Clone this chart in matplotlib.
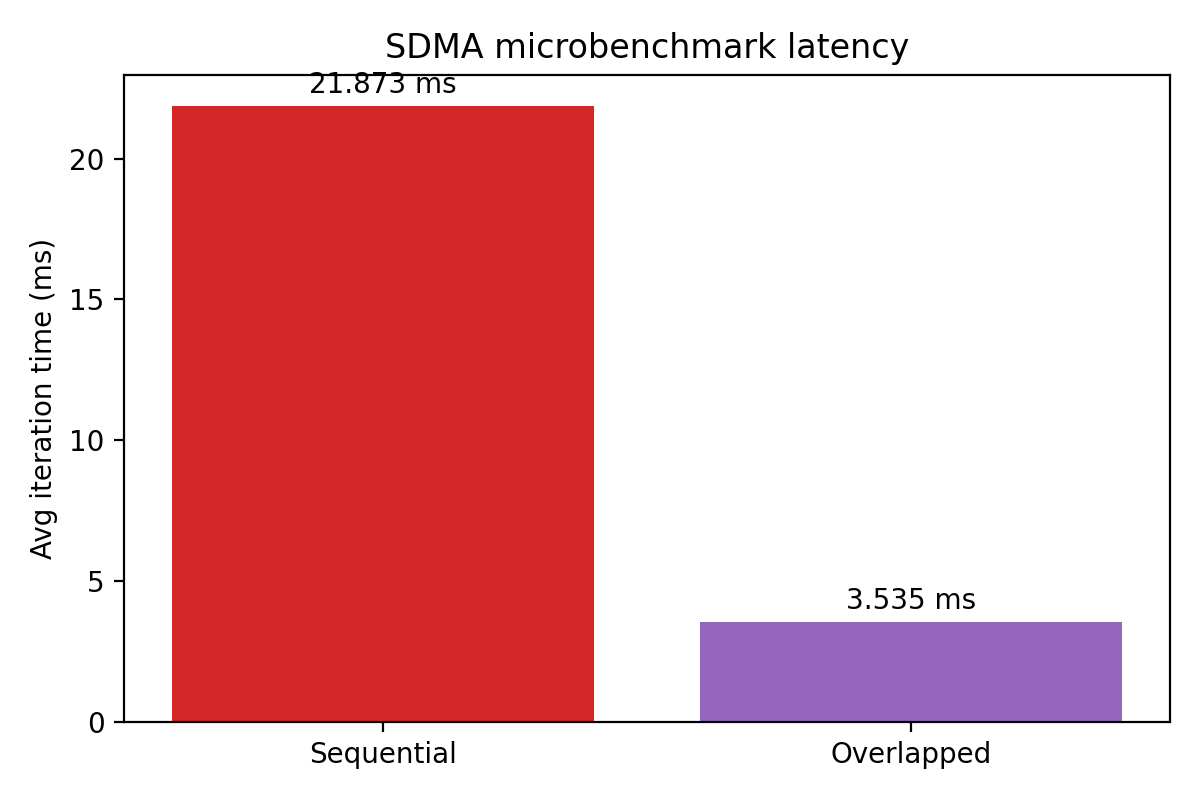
import matplotlib
matplotlib.use("Agg")
import matplotlib.pyplot as plt

categories = ["Sequential", "Overlapped"]
values = [21.873, 3.535]
colors = ["tab:red", "tab:purple"]

fig, ax = plt.subplots(figsize=(6, 4), dpi=200)
bars = ax.bar(categories, values, color=colors)
for b, v in zip(bars, values):
    ax.annotate(f"{v:.3f} ms", (b.get_x() + b.get_width() / 2, v),
                xytext=(0, 2.5), textcoords="offset points",
                ha="center", va="bottom", fontsize=10)
ax.set_ylabel("Avg iteration time (ms)")
ax.set_title("SDMA microbenchmark latency")
fig.subplots_adjust(left=124 / 1200, right=1170 / 1200,
                    bottom=1 - 722 / 800, top=1 - 75 / 800)
fig.savefig("out.png")
